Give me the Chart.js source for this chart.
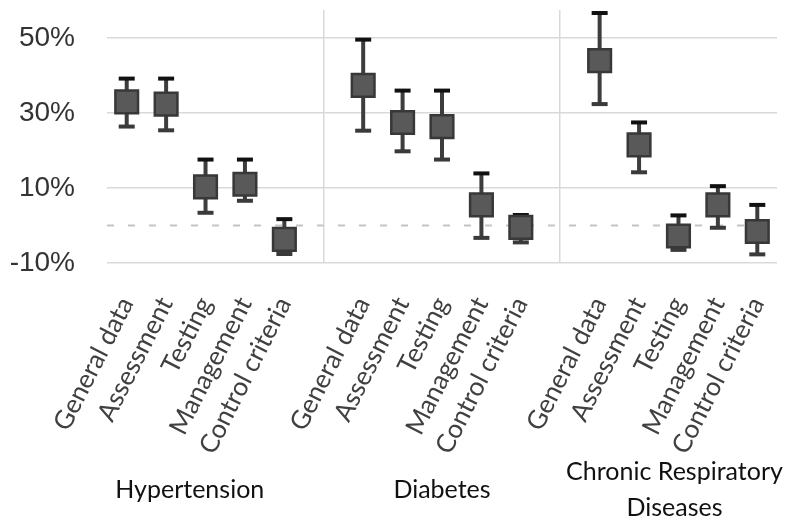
<!DOCTYPE html>
<html>
<head>
<meta charset="utf-8">
<script src="https://cdn.jsdelivr.net/npm/chart.js@4/dist/chart.umd.min.js"></script>
<style>
  html, body { margin: 0; padding: 0; background: #fff; }
  #wrap { width: 800px; height: 525px; }
</style>
</head>
<body>
<div id="wrap"><canvas id="ci-chart"></canvas></div>
<script>
const ciCanvas = document.getElementById("ci-chart")

const groups = ["Hypertension", "Diabetes", ["Chronic Respiratory", "Diseases"]]
const categories = ["General data", "Assessment", "Testing", "Management", "Control criteria"]
const yTicks = [-10, 10, 30, 50]

// estimate and 95% interval, in %
const hypertensionEst = [33.0, 32.4, 10.3, 11.0, -3.7]
const hypertensionLow = [26.4, 25.4, 3.4, 6.6, -7.6]
const hypertensionHigh = [39.2, 39.2, 17.6, 17.6, 1.7]

const diabetesEst = [37.4, 27.5, 26.4, 5.5, -0.5]
const diabetesLow = [25.3, 19.8, 17.6, -3.3, -4.5]
const diabetesHigh = [49.6, 36.0, 36.0, 13.9, 2.8]

const respiratoryEst = [44.0, 21.5, -2.8, 5.5, -1.6]
const respiratoryLow = [32.4, 14.2, -6.5, -0.6, -7.7]
const respiratoryHigh = [56.7, 27.5, 2.7, 10.5, 5.5]

// flatten groups with an empty slot between them
const labels = []
const est = []
const low = []
const high = []
const groupData = [
  [hypertensionEst, hypertensionLow, hypertensionHigh],
  [diabetesEst, diabetesLow, diabetesHigh],
  [respiratoryEst, respiratoryLow, respiratoryHigh],
]
groupData.forEach((g, gi) => {
  if (gi > 0) {
    labels.push("")
    est.push(null)
    low.push(null)
    high.push(null)
  }
  categories.forEach((c, i) => {
    labels.push(c)
    est.push(g[0][i])
    low.push(g[1][i])
    high.push(g[2][i])
  })
})

const errorBars = {
  id: "errorBars",
  beforeDatasetsDraw(chart) {
    const { ctx, scales } = chart
    const x = scales.x
    const y = scales.y
    ctx.save()
    // zero line
    ctx.strokeStyle = "#c4c4c4"
    ctx.lineWidth = 2
    ctx.setLineDash([7, 14])
    const y0 = y.getPixelForValue(0)
    ctx.beginPath()
    ctx.moveTo(chart.chartArea.left, y0)
    ctx.lineTo(chart.chartArea.right, y0)
    ctx.stroke()
    ctx.setLineDash([])
    est.forEach((v, i) => {
      if (v === null) return
      const px = x.getPixelForValue(i)
      const pLow = y.getPixelForValue(low[i])
      const pHigh = y.getPixelForValue(high[i])
      ctx.strokeStyle = "#3d3d3d"
      ctx.lineWidth = 4
      ctx.beginPath()
      ctx.moveTo(px, pLow)
      ctx.lineTo(px, pHigh)
      ctx.stroke()
      ctx.strokeStyle = "#3a3a3a"
      ctx.beginPath()
      ctx.moveTo(px - 8, pLow)
      ctx.lineTo(px + 8, pLow)
      ctx.stroke()
      ctx.strokeStyle = "#111"
      ctx.beginPath()
      ctx.moveTo(px - 8, pHigh)
      ctx.lineTo(px + 8, pHigh)
      ctx.stroke()
    })
    ctx.restore()
  },
  afterDraw(chart) {
    const { ctx, scales } = chart
    const x = scales.x
    // group names under the rotated labels
    const centers = [1.6, 8, 13.9]
    ctx.save()
    ctx.fillStyle = "#111"
    ctx.font = "25px Lato"
    ctx.textAlign = "center"
    ctx.textBaseline = "middle"
    groups.forEach((g, i) => {
      const px = x.getPixelForValue(centers[i])
      if (Array.isArray(g)) {
        ctx.fillText(g[0], px, 472)
        ctx.fillText(g[1], px, 508)
      } else {
        ctx.fillText(g, px, 490)
      }
    })
    ctx.restore()
  },
}

let ciChart = new Chart(ciCanvas, {
  type: "line",
  data: {
    labels: labels,
    datasets: [
      {
        data: est,
        showLine: false,
        clip: false,
        pointStyle: "rect",
        pointRadius: 16,
        pointBackgroundColor: "#595959",
        pointBorderColor: "#383838",
        pointBorderWidth: 2.5,
      },
    ],
  },
  options: {
    responsive: true,
    maintainAspectRatio: false,
    animation: false,
    layout: {
      autoPadding: false,
      padding: { top: 10, right: 23, left: 0, bottom: 0 },
    },
    scales: {
      x: {
        offset: true,
        grid: {
          offset: false,
          drawTicks: false,
          lineWidth: 1.5,
          color: (c) => (labels[c.index] === "" ? "#d9d9d9" : "rgba(0,0,0,0)"),
        },
        border: { display: false },
        ticks: {
          autoSkip: false,
          maxRotation: 63,
          minRotation: 63,
          padding: 29,
          color: "#404040",
          font: { family: "Lato", size: 26 },
        },
        afterFit: (scale) => {
          scale.height = 262
          scale.paddingLeft = 0
          scale.paddingRight = 0
        },
      },
      y: {
        min: -10,
        max: 57.5,
        afterBuildTicks: (scale) => {
          scale.ticks = yTicks.map((v) => ({ value: v }))
        },
        grid: {
          drawTicks: false,
          lineWidth: 1.5,
          color: "#d9d9d9",
        },
        border: { display: false },
        ticks: {
          padding: 32,
          color: "#333",
          font: { family: "Liberation Sans", size: 28 },
          callback: (v) => v + "%",
        },
        afterFit: (scale) => {
          scale.width = 107
          scale.paddingTop = 0
          scale.paddingBottom = 0
        },
      },
    },
    plugins: {
      legend: { display: false },
      tooltip: { enabled: false },
    },
  },
  plugins: [errorBars],
})
</script>
</body>
</html>
